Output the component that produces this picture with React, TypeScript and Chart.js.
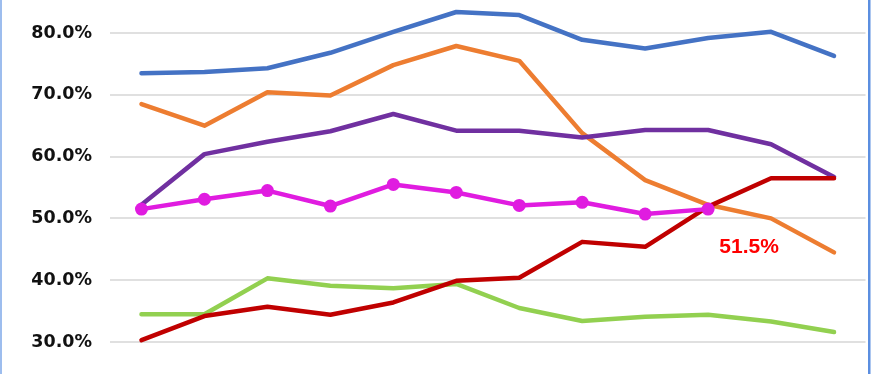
import React, { useEffect, useRef } from "react";
import { Chart, registerables } from "chart.js";

Chart.register(...registerables);

const categories = ["1", "2", "3", "4", "5", "6", "7", "8", "9", "10", "11", "12"];
const blueSeries = [73.5, 73.7, 74.3, 76.8, 80.2, 83.4, 82.9, 78.9, 77.5, 79.2, 80.2, 76.3];
const orangeSeries = [68.5, 65.0, 70.4, 69.9, 74.8, 77.9, 75.5, 63.8, 56.2, 52.2, 50.0, 44.5];
const purpleSeries = [52.2, 60.4, 62.4, 64.1, 66.9, 64.2, 64.2, 63.1, 64.3, 64.3, 62.0, 56.7];
const magentaSeries = [51.5, 53.1, 54.5, 52.0, 55.5, 54.2, 52.1, 52.6, 50.7, 51.5, null, null];
const redSeries = [30.3, 34.2, 35.7, 34.4, 36.4, 39.9, 40.4, 46.2, 45.4, 51.9, 56.5, 56.5];
const greenSeries = [34.5, 34.5, 40.3, 39.1, 38.7, 39.4, 35.5, 33.4, 34.1, 34.4, 33.3, 31.6];
const yTicks = [30, 40, 50, 60, 70, 80];
const labelText = "51.5%";
const labelIndex = 9;

export default function App() {
  const ref = useRef<HTMLCanvasElement | null>(null);

  useEffect(() => {
    if (!ref.current) return;

    const decor = {
      id: "decor",
      afterDatasetsDraw(chart: any) {
        const ctx = chart.ctx;
        const meta = chart.getDatasetMeta(0);
        const pt = meta.data[labelIndex];
        if (pt) {
          ctx.save();
          ctx.fillStyle = "#FF0000";
          ctx.font = "bold 21px 'Liberation Sans', Arial, sans-serif";
          ctx.textAlign = "center";
          ctx.textBaseline = "middle";
          ctx.fillText(labelText, pt.x + 41, pt.y + 38);
          ctx.restore();
        }
      },
      afterDraw(chart: any) {
        const ctx = chart.ctx;
        ctx.save();
        ctx.fillStyle = "#9DBDEE";
        ctx.fillRect(0, 0, 2, chart.height);
        ctx.fillStyle = "#5B8EE0";
        ctx.fillRect(868, 0, 2.5, chart.height);
        ctx.restore();
      },
    };

    const line = (data: (number | null)[], color: string, order: number, points = false) => ({
      data,
      borderColor: color,
      backgroundColor: color,
      borderWidth: 4.5,
      tension: 0,
      pointRadius: points ? 6.5 : 0,
      pointHoverRadius: points ? 6.5 : 0,
      pointBackgroundColor: color,
      pointBorderWidth: 0,
      borderCapStyle: "round" as const,
      borderJoinStyle: "round" as const,
      spanGaps: false,
      order,
    });

    const chart = new Chart(ref.current, {
      type: "line",
      data: {
        labels: categories,
        datasets: [
          line(magentaSeries, "#E01CE0", 0, true),
          line(redSeries, "#C00000", 1),
          line(purpleSeries, "#7030A0", 2),
          line(orangeSeries, "#ED7D31", 3),
          line(greenSeries, "#92D050", 4),
          line(blueSeries, "#4472C4", 5),
        ],
      },
      options: {
        animation: false,
        responsive: false,
        maintainAspectRatio: false,
        events: [],
        layout: { padding: 0 },
        plugins: {
          legend: { display: false },
          tooltip: { enabled: false },
          title: { display: false },
        },
        scales: {
          x: {
            display: false,
            offset: true,
            grid: { display: false },
          },
          y: {
            min: 25.87,
            max: 84.29,
            afterBuildTicks(scale: any) {
              scale.ticks = yTicks.map((v) => ({ value: v }));
            },
            afterFit(scale: any) {
              scale.width = 110;
              scale.paddingTop = 0;
              scale.paddingBottom = 0;
            },
            border: { display: false },
            grid: {
              color: "#E0E0E0",
              lineWidth: 2,
              drawTicks: false,
            },
            ticks: {
              padding: 18,
              color: "#111111",
              font: { family: "'DejaVu Sans', sans-serif", weight: "bold", size: 17.5 },
              callback: (v: any) => Number(v).toFixed(1) + "%",
            },
          },
        },
      },
      plugins: [decor],
    });

    return () => chart.destroy();
  }, []);

  return (
    <div style={{ position: "fixed", left: 0, top: 0, width: 872, height: 374, background: "#FFFFFF" }}>
      <canvas ref={ref} width={872} height={374} style={{ width: 872, height: 374, display: "block" }} />
    </div>
  );
}
